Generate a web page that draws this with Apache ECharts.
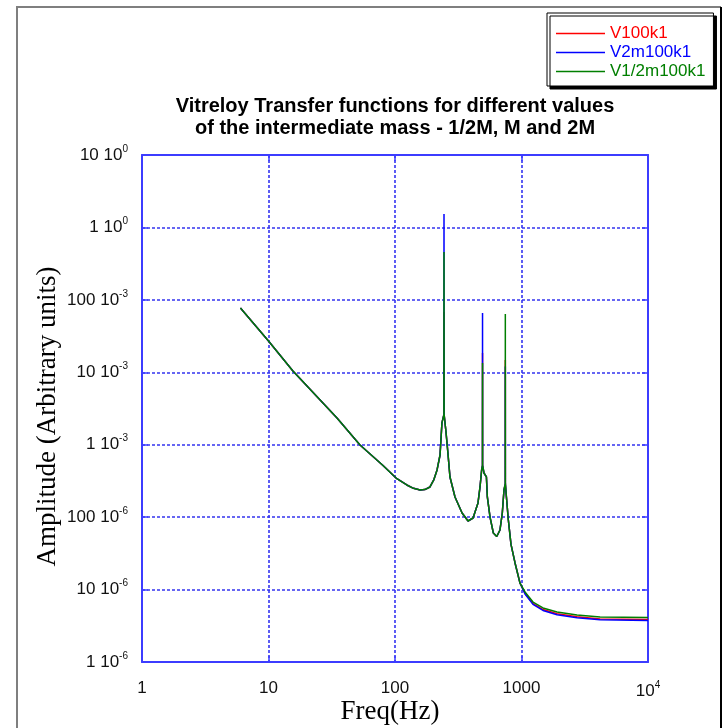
<!DOCTYPE html>
<html>
<head>
<meta charset="utf-8">
<script src="https://cdn.jsdelivr.net/npm/echarts@6/dist/echarts.min.js"></script>
<style>
html,body{margin:0;padding:0;background:#fff;}
#chart{width:724px;height:728px;}
</style>
</head>
<body>
<div id="chart"></div>
<script>
// ---- data ----
const seriesNames = ['V100k1', 'V2m100k1', 'V1/2m100k1'];
const freqHz = [6, 10, 15.6, 34.8, 52.9, 80, 102, 124, 140, 158, 172, 189, 203, 215, 227, 235, 243.5, 244, 244.5,
  253, 262, 272, 298, 339, 378, 414, 453, 470, 484, 491.5, 492, 492.5, 505, 528, 537, 564, 599, 637,
  676, 705, 727, 744.5, 745, 745.5, 760, 787, 826, 889, 973, 1066, 1233, 1479, 1909, 2748, 4178, 10000];
const ampRed = [0.0773, 0.027, 0.0104, 2.34e-3, 9.9e-4, 5.2e-4, 3.47e-4, 2.78e-4, 2.5e-4, 2.37e-4, 2.4e-4, 2.61e-4, 3.3e-4, 4.48e-4, 7.21e-4, 2.0e-3, 2.6e-3, 0.068, 2.6e-3,
  1.5e-3, 7.69e-4, 3.58e-4, 1.9e-4, 1.14e-4, 8.85e-5, 9.73e-5, 1.57e-4, 2.61e-4, 4.48e-4, 5.2e-4, 0.0185, 5.2e-4, 4.07e-4, 3.6e-4, 1.91e-4, 1.0e-4, 6.04e-5, 5.4e-5,
  6.65e-5, 1.14e-4, 2.37e-4, 2.9e-4, 0.0148, 2.9e-4, 1.9e-4, 9.14e-5, 4.2e-5, 2.33e-5, 1.23e-5, 8.9e-6, 6.4e-6, 5.3e-6, 4.65e-6, 4.2e-6, 3.92e-6, 3.85e-6];
const ampBlue = [0.0773, 0.027, 0.0104, 2.34e-3, 9.9e-4, 5.2e-4, 3.47e-4, 2.78e-4, 2.5e-4, 2.37e-4, 2.4e-4, 2.61e-4, 3.3e-4, 4.48e-4, 7.21e-4, 2.0e-3, 2.6e-3, 1.53, 2.6e-3,
  1.5e-3, 7.69e-4, 3.58e-4, 1.9e-4, 1.14e-4, 8.85e-5, 9.73e-5, 1.57e-4, 2.61e-4, 4.48e-4, 5.2e-4, 0.066, 5.2e-4, 4.07e-4, 3.6e-4, 1.91e-4, 1.0e-4, 6.04e-5, 5.4e-5,
  6.65e-5, 1.14e-4, 2.37e-4, 2.9e-4, 0.012, 2.9e-4, 1.9e-4, 9.14e-5, 4.2e-5, 2.33e-5, 1.23e-5, 8.7e-6, 6.25e-6, 5.15e-6, 4.5e-6, 4.08e-6, 3.82e-6, 3.75e-6];
const ampGreen = [0.0773, 0.027, 0.0104, 2.34e-3, 9.9e-4, 5.2e-4, 3.47e-4, 2.78e-4, 2.5e-4, 2.37e-4, 2.4e-4, 2.61e-4, 3.3e-4, 4.48e-4, 7.21e-4, 2.0e-3, 2.6e-3, 0.458, 2.6e-3,
  1.5e-3, 7.69e-4, 3.58e-4, 1.9e-4, 1.14e-4, 8.85e-5, 9.73e-5, 1.57e-4, 2.61e-4, 4.48e-4, 5.2e-4, 0.0134, 5.2e-4, 4.07e-4, 3.6e-4, 1.91e-4, 1.0e-4, 6.04e-5, 5.4e-5,
  6.65e-5, 1.14e-4, 2.37e-4, 2.9e-4, 0.064, 2.9e-4, 1.9e-4, 9.14e-5, 4.2e-5, 2.33e-5, 1.23e-5, 9.27e-6, 6.73e-6, 5.57e-6, 4.9e-6, 4.45e-6, 4.18e-6, 4.1e-6];
// tick labels
const xTickMain = ['1', '10', '100', '1000', '10'];
const xTickExp = ['', '', '', '', '4'];
const yTickMain = ['1 10', '10 10', '100 10', '1 10', '10 10', '100 10', '1 10', '10 10']; // 1e-6 .. 10
const yTickExp = ['-6', '-6', '-6', '-3', '-3', '-3', '0', '0'];
const titleLines = ['Vitreloy Transfer functions for different values', 'of the intermediate mass - 1/2M, M and 2M'];

// ---- chart ----
const colors = ['#ff0000', '#0000ff', '#007f00'];
const amps = [ampRed, ampBlue, ampGreen];
const axisBlue = '#3c3cff';
const gridBlue = '#3434f0';
const sans = 'Liberation Sans, Arial, sans-serif';
const serif = 'Liberation Serif, Times New Roman, serif';

const richLabel = {
  m: { fontSize: 17, fontFamily: sans, color: '#111' },
  e: { fontSize: 10, fontFamily: sans, color: '#111', padding: [0, 0, 12, 0] }
};

const chart = echarts.init(document.getElementById('chart'), null, { renderer: 'canvas' });
chart.setOption({
  animation: false,
  backgroundColor: '#fff',
  title: {
    text: titleLines.join('\n'),
    left: 395, top: 95, textAlign: 'center', padding: 0,
    textStyle: { fontSize: 20, fontWeight: 'bold', fontFamily: sans, color: '#000', lineHeight: 22 }
  },
  legend: {
    orient: 'vertical', left: 547, top: 13,
    padding: [12, 8, 6, 9],
    itemWidth: 49, itemHeight: 1.5, itemGap: 2, icon: 'rect',
    backgroundColor: '#fff', borderColor: '#000', borderWidth: 1,
    shadowColor: '#000', shadowBlur: 0, shadowOffsetX: 3, shadowOffsetY: 3,
    textStyle: { fontSize: 17, fontFamily: sans },
    data: seriesNames.map((n, i) => ({ name: n, textStyle: { color: colors[i] } }))
  },
  grid: { left: 142, top: 155, width: 506, height: 507, containLabel: false, outerBoundsMode: 'none' },
  xAxis: [{
    type: 'log', logBase: 10, min: 1, max: 10000, splitNumber: 4,
    name: 'Freq(Hz)', nameLocation: 'middle', nameGap: 36, nameMoveOverlap: false,
    nameTextStyle: { fontSize: 27, fontFamily: serif, color: '#000', padding: [0, 10, 0, 0] },
    axisLine: { lineStyle: { color: axisBlue, width: 2 } },
    axisTick: { inside: true, length: 6, lineStyle: { color: axisBlue, width: 1.5 } },
    minorTick: { show: false },
    splitLine: { show: true, lineStyle: { color: gridBlue, width: 1.6, type: [3, 2] } },
    axisLabel: {
      margin: 18,
      formatter: v => {
        const i = Math.round(Math.log10(v));
        return '{m|' + xTickMain[i] + '}' + (xTickExp[i] ? '{e|' + xTickExp[i] + '}' : '');
      },
      rich: richLabel
    }
  }, {
    type: 'log', logBase: 10, min: 1, max: 10000, splitNumber: 4, position: 'top',
    axisLine: { lineStyle: { color: axisBlue, width: 2 } },
    axisTick: { inside: true, length: 6, lineStyle: { color: axisBlue, width: 1.5 } },
    splitLine: { show: false }, axisLabel: { show: false }
  }],
  yAxis: [{
    type: 'log', logBase: 10, min: 1e-6, max: 10, splitNumber: 7,
    name: 'Amplitude (Arbitrary units)', nameLocation: 'middle', nameGap: 81, nameMoveOverlap: false,
    nameTextStyle: { fontSize: 27, fontFamily: serif, color: '#000', padding: [0, 16, 0, 0] },
    axisLine: { lineStyle: { color: axisBlue, width: 2 } },
    axisTick: { inside: true, length: 6, lineStyle: { color: axisBlue, width: 1.5 } },
    splitLine: { show: true, lineStyle: { color: gridBlue, width: 1.6, type: [3, 2] } },
    axisLabel: {
      margin: 14,
      formatter: v => {
        const i = Math.round(Math.log10(v)) + 6;
        return '{m|' + yTickMain[i] + '}{e|' + yTickExp[i] + '}';
      },
      rich: richLabel
    }
  }, {
    type: 'log', logBase: 10, min: 1e-6, max: 10, splitNumber: 7, position: 'right',
    axisLine: { lineStyle: { color: axisBlue, width: 2 } },
    axisTick: { inside: true, length: 6, lineStyle: { color: axisBlue, width: 1.5 } },
    splitLine: { show: false }, axisLabel: { show: false }
  }],
  graphic: [
    { type: 'polyline', silent: true, shape: { points: [[17, 728], [17, 7], [721, 7]] },
      style: { stroke: '#7f7f7f', lineWidth: 2, fill: null } },
    { type: 'line', silent: true, shape: { x1: 721, y1: 7, x2: 721, y2: 728 },
      style: { stroke: '#000', lineWidth: 2 } }
  ],
  series: seriesNames.map((n, i) => ({
    name: n, type: 'line', xAxisIndex: 0, yAxisIndex: 0,
    showSymbol: false, symbol: 'none', z: 2 + i,
    color: colors[i],
    lineStyle: { color: colors[i], width: 1.5 },
    data: freqHz.map((f, k) => [f, amps[i][k]])
  }))
});
</script>
</body>
</html>
